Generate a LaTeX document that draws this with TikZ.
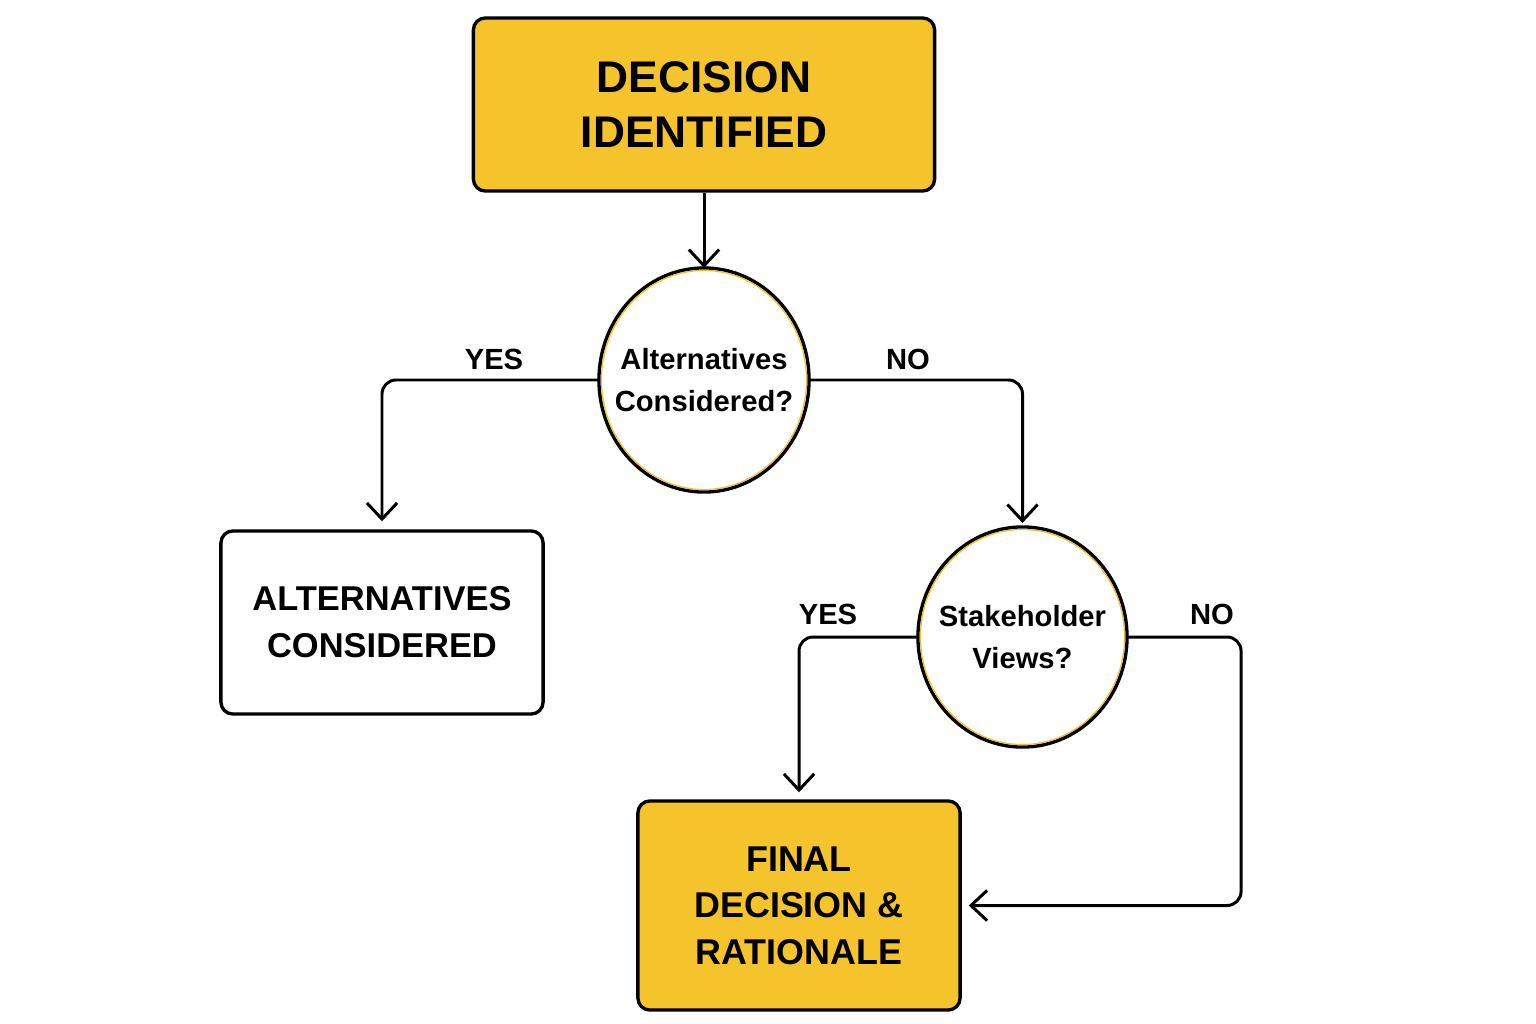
\documentclass[tikz,border=0pt]{standalone}
\usepackage{fontspec}
\setmainfont{Liberation Sans}
\usetikzlibrary{arrows.meta,shapes.geometric,positioning}
\definecolor{ybox}{HTML}{F5C32C}
\definecolor{yline}{HTML}{F2C21E}
\tikzset{
  boxstyle/.style={draw=black, line width=0.95pt, rounded corners=0.12cm, align=center, inner sep=0pt, font=\bfseries},
  yellowbox/.style={boxstyle, fill=ybox},
  whitebox/.style={boxstyle, fill=white},
  decision/.style={ellipse, draw=black, line width=0.95pt, fill=white, inner sep=0pt, outer sep=0pt},
  dtext/.style={align=center, inner sep=0pt, font=\bfseries\fontsize{8.3}{12}\selectfont},
  conn/.style={draw=black, line width=0.85pt, -{Straight Barb[length=4.6pt,width=8.6pt,line width=0.85pt]}, rounded corners=0.14cm},
  lbl/.style={font=\bfseries\fontsize{8.3}{10}\selectfont, inner sep=0pt}
}
\begin{document}
\begin{tikzpicture}[x=0.01cm,y=-0.01cm]
\useasboundingbox (0,0) rectangle (1536,1024);
\node[yellowbox, minimum width=4.61cm, minimum height=1.73cm, font=\bfseries\fontsize{12.6}{15.6}\selectfont] (top) at (704,104.5) {DECISION\\IDENTIFIED};
\node[decision, minimum width=2.10cm, minimum height=2.24cm] (c1) at (704,380) {};
\draw[yline, line width=0.35pt] (704,380) ellipse [x radius=1.025cm, y radius=1.095cm];
\node[dtext] (c1t) at (704,380) {Alternatives\\Considered?};
\node[whitebox, minimum width=3.22cm, minimum height=1.83cm, font=\bfseries\fontsize{9.8}{13.3}\selectfont] (alt) at (382,622.5) {ALTERNATIVES\\CONSIDERED};
\node[decision, minimum width=2.09cm, minimum height=2.20cm] (c2) at (1022.5,637) {};
\draw[yline, line width=0.35pt] (1022.5,637) ellipse [x radius=1.02cm, y radius=1.075cm];
\node[dtext] (c2t) at (1022.5,637) {Stakeholder\\Views?};
\node[yellowbox, minimum width=3.22cm, minimum height=2.09cm, font=\bfseries\fontsize{10.2}{13.2}\selectfont] (final) at (799,905.5) {FINAL\\DECISION \&\\RATIONALE};

\draw[conn] (top.south) -- (c1.north);
\draw[conn, shorten >=0.08cm] (c1.west) -| (alt.north);
\draw[conn, shorten >=0.04cm] (c1.east) -| (c2.north);
\draw[conn, shorten >=0.07cm] (c2.west) -| (final.north);
\draw[conn, shorten >=0.07cm] (c2.east) -- ++(114,0) |- (final.east);

\node[lbl] (yes1) at (494,359) {YES};
\node[lbl] (no1) at (908,359) {NO};
\node[lbl] (yes2) at (828,614) {YES};
\node[lbl] (no2) at (1212,614) {NO};
\end{tikzpicture}
\end{document}
